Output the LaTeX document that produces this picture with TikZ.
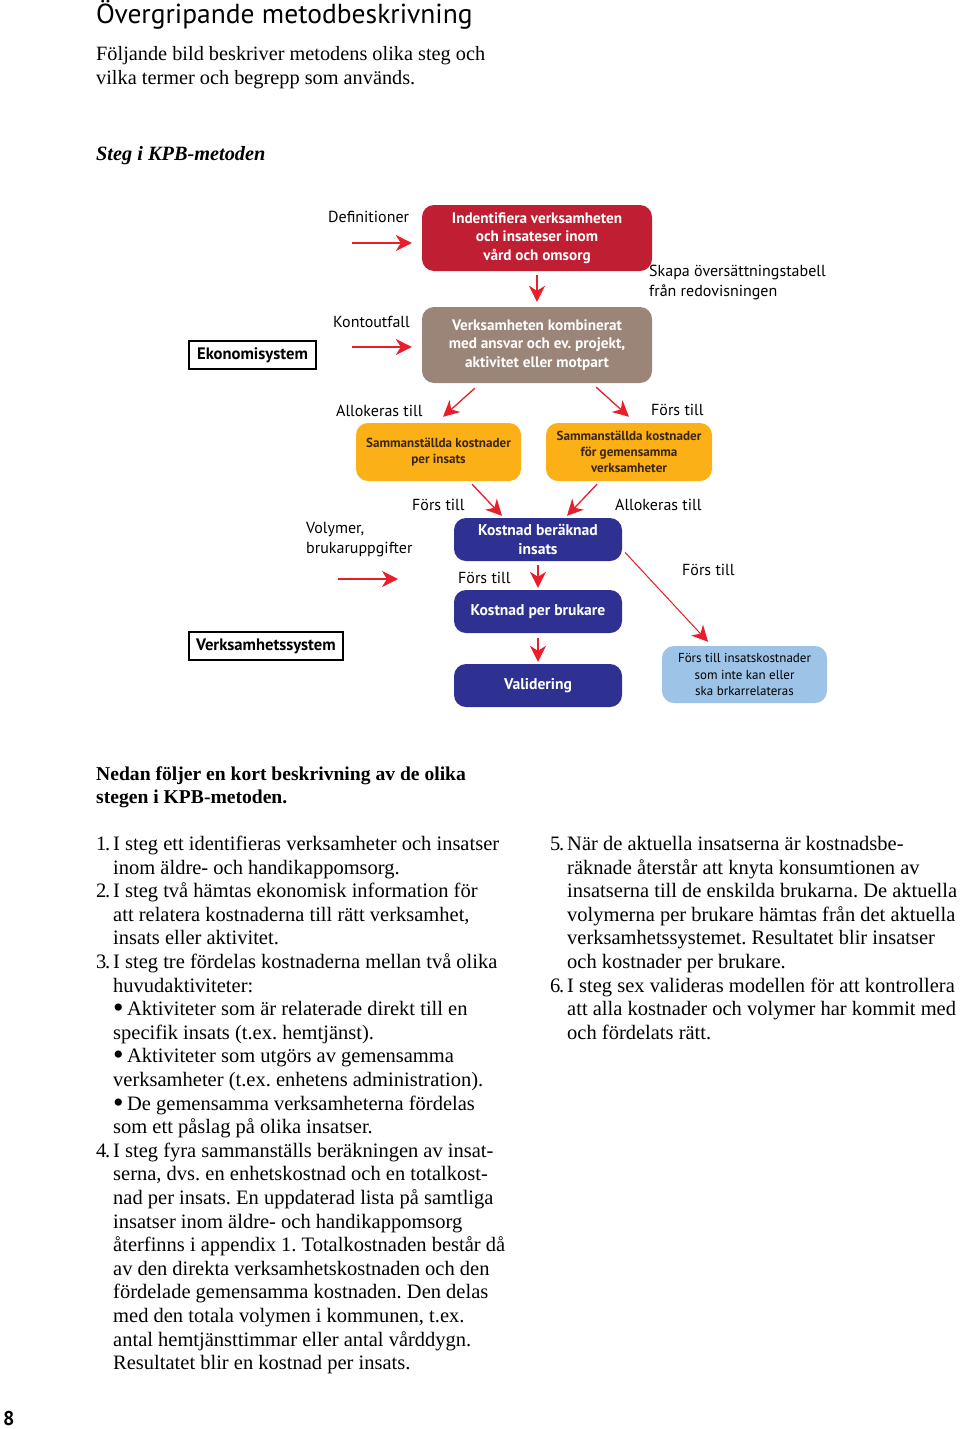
\documentclass[tikz,border=0pt]{standalone}
\usepackage{fontspec}
\setmainfont{Liberation Serif}
\newfontfamily\diafont{PT Sans}
\usetikzlibrary{arrows.meta,positioning}
\frenchspacing

\definecolor{stegrod}{RGB}{192,30,50}
\definecolor{stegbrun}{RGB}{155,133,121}
\definecolor{stegorange}{RGB}{251,176,23}
\definecolor{stegbla}{RGB}{46,49,146}
\definecolor{stegljusbla}{RGB}{157,195,230}
\definecolor{pilrod}{RGB}{232,30,42}
\definecolor{orangetext}{RGB}{60,38,18}

\newcommand{\indrad}{\hspace*{17pt}}
\newcommand{\nummer}[1]{\makebox[17pt][l]{#1\kern-1.3pt.}}
\newcommand{\punkt}{{\fontsize{30}{20}\selectfont\raisebox{-2pt}{\textbullet}}\,}

\begin{document}
\begin{tikzpicture}[x=1pt, y=-1pt,
    boxstyle/.style={rectangle, rounded corners=12pt, inner sep=0pt, align=center, text=white,
        font=\diafont\bfseries\fontsize{15.2}{18.5}\selectfont},
    bluebox/.style={boxstyle, fill=stegbla, minimum width=168pt, minimum height=43pt,
        font=\diafont\bfseries\fontsize{15.6}{19}\selectfont},
    smallbox/.style={boxstyle, text=orangetext, font=\diafont\bfseries\fontsize{13.1}{16.3}\selectfont},
    systemstyle/.style={rectangle, draw=black, line width=1.4pt, inner sep=0pt, minimum height=28pt,
        font=\diafont\bfseries\fontsize{16.6}{18}\selectfont},
    labelstyle/.style={anchor=west, inner sep=0pt, align=left, font=\diafont\fontsize{16}{20}\selectfont},
    arrowstyle/.style={-{Stealth[length=16pt, width=16pt, inset=5pt]}, line width=1.3pt, draw=pilrod, fill=pilrod},
    bodystyle/.style={anchor=base west, inner sep=0pt, font=\fontsize{20.5}{23.6}\selectfont}
]
    \fill[white] (0,0) rectangle (960,1429);
    \useasboundingbox (0,0) rectangle (960,1429);

    % rubrik och ingress
    \node[anchor=base west, inner sep=0pt, font=\diafont\fontsize{27.5}{30}\selectfont] (rubrik) at (96,24) {Övergripande metodbeskrivning};
    \node[bodystyle, font=\fontsize{20.3}{23.6}\selectfont] (ingress) at (96,61) {\parbox[t]{440pt}{\raggedright
        Följande bild beskriver metodens olika steg och\\
        vilka termer och begrepp som används.}};
    \node[bodystyle, font=\bfseries\itshape\fontsize{20.3}{23.6}\selectfont] (stegrubrik) at (96,160) {Steg i KPB-metoden};

    % steg i diagrammet
    \node[boxstyle, fill=stegrod, minimum width=230pt, minimum height=66pt] (ident) at (537,238) {Indentifiera verksamheten\\och insateser inom\\vård och omsorg};
    \node[boxstyle, fill=stegbrun, minimum width=230pt, minimum height=76pt] (komb) at (537,345) {Verksamheten kombinerat\\med ansvar och ev. projekt,\\aktivitet eller motpart};
    \node[smallbox, fill=stegorange, minimum width=165pt, minimum height=58pt] (perinsats) at (438.5,452) {Sammanställda kostnader\\per insats};
    \node[smallbox, fill=stegorange, minimum width=166pt, minimum height=58pt] (gemensam) at (629,452) {Sammanställda kostnader\\för gemensamma\\verksamheter};
    \node[bluebox] (beraknad) at (538,539.5) {Kostnad beräknad\\insats};
    \node[bluebox] (brukare) at (538,611.5) {Kostnad per brukare};
    \node[bluebox] (validering) at (538,685.5) {Validering};
    \node[smallbox, fill=stegljusbla, text=black, minimum width=165pt, minimum height=57pt,
        font=\diafont\fontsize{13}{16.5}\selectfont] (ovrigt) at (744.5,674.5) {Förs till insatskostnader\\som inte kan eller\\ska brkarrelateras};

    % system
    \node[systemstyle, minimum width=127pt] (ekonomi) at (252.5,355) {Ekonomisystem};
    \node[systemstyle, minimum width=154pt] (verksamhet) at (266,646) {Verksamhetssystem};

    % etiketter
    \node[labelstyle] (definitioner) at (328,217) {Definitioner};
    \node[labelstyle] (kontoutfall) at (333,322) {Kontoutfall};
    \node[labelstyle] (skapa) at (649,282) {Skapa översättningstabell\\från redovisningen};
    \node[labelstyle] (allokeras1) at (336,411) {Allokeras till};
    \node[labelstyle] (fors1) at (651,410) {Förs till};
    \node[labelstyle] (fors2) at (412,505) {Förs till};
    \node[labelstyle] (allokeras2) at (615,505) {Allokeras till};
    \node[labelstyle] (volymer) at (306,540) {Volymer,\\brukaruppgifter};
    \node[labelstyle] (fors3) at (458,578) {Förs till};
    \node[labelstyle] (fors4) at (682,570) {Förs till};

    % pilar
    \coordinate (defin) at (352,243);
    \coordinate (kontin) at (352,347);
    \coordinate (volin) at (338,579);
    \coordinate (volut) at (398,579);
    \draw[arrowstyle, shorten >=10pt] (defin) -- (defin -| ident.west);
    \draw[arrowstyle, shorten >=10pt] (kontin) -- (kontin -| komb.west);
    \draw[arrowstyle] (volin) -- (volut);
    \draw[arrowstyle, shorten <=4pt, shorten >=5pt] (ident) -- (komb);
    \draw[arrowstyle] ([xshift=53pt, yshift=-5pt]komb.south west) -- ([xshift=4.5pt, yshift=6pt]perinsats.north);
    \draw[arrowstyle] ([xshift=-56pt, yshift=-4pt]komb.south east) -- ([yshift=6pt]gemensam.north);
    \draw[arrowstyle] ([xshift=33.5pt, yshift=-3pt]perinsats.south) -- ([xshift=-36pt, yshift=2pt]beraknad.north);
    \draw[arrowstyle] ([xshift=-32pt, yshift=-3pt]gemensam.south) -- ([xshift=29pt, yshift=2pt]beraknad.north);
    \draw[arrowstyle, shorten <=4pt, shorten >=2pt] (beraknad) -- (brukare);
    \draw[arrowstyle, shorten <=5pt, shorten >=2pt] (brukare) -- (validering);
    \draw[arrowstyle, line width=1pt] ([xshift=3pt, yshift=-13pt]beraknad.east) -- ([xshift=-36.5pt, yshift=4pt]ovrigt.north);

    % beskrivning
    \node[bodystyle, font=\bfseries\fontsize{19.6}{23.5}\selectfont] (nedan) at (96,780) {\parbox[t]{440pt}{\raggedright
        Nedan följer en kort beskrivning av de olika\\
        stegen i KPB-metoden.}};
    \node[bodystyle] (spalt1) at (96,850.5) {\parbox[t]{440pt}{\raggedright
        \nummer{1}I steg ett identifieras verksamheter och insatser\\
        \indrad inom äldre- och handikappomsorg.\\
        \nummer{2}I steg två hämtas ekonomisk information för\\
        \indrad att relatera kostnaderna till rätt verksamhet,\\
        \indrad insats eller aktivitet.\\
        \nummer{3}I steg tre fördelas kostnaderna mellan två olika\\
        \indrad huvudaktiviteter:\\
        \indrad\punkt Aktiviteter som är relaterade direkt till en\\
        \indrad specifik insats (t.ex. hemtjänst).\\
        \indrad\punkt Aktiviteter som utgörs av gemensamma\\
        \indrad verksamheter (t.ex. enhetens administration).\\
        \indrad\punkt De gemensamma verksamheterna fördelas\\
        \indrad som ett påslag på olika insatser.\\
        \nummer{4}I steg fyra sammanställs beräkningen av insat-\\
        \indrad serna, dvs. en enhetskostnad och en totalkost-\\
        \indrad nad per insats. En uppdaterad lista på samtliga\\
        \indrad insatser inom äldre- och handikappomsorg\\
        \indrad återfinns i appendix 1. Totalkostnaden består då\\
        \indrad av den direkta verksamhetskostnaden och den\\
        \indrad fördelade gemensamma kostnaden. Den delas\\
        \indrad med den totala volymen i kommunen, t.ex.\\
        \indrad antal hemtjänsttimmar eller antal vårddygn.\\
        \indrad Resultatet blir en kostnad per insats.}};
    \node[bodystyle] (spalt2) at (550,850.5) {\parbox[t]{420pt}{\raggedright
        \nummer{5}När de aktuella insatserna är kostnadsbe-\\
        \indrad räknade återstår att knyta konsumtionen av\\
        \indrad insatserna till de enskilda brukarna. De aktuella\\
        \indrad volymerna per brukare hämtas från det aktuella\\
        \indrad verksamhetssystemet. Resultatet blir insatser\\
        \indrad och kostnader per brukare.\\
        \nummer{6}I steg sex valideras modellen för att kontrollera\\
        \indrad att alla kostnader och volymer har kommit med\\
        \indrad och fördelats rätt.}};

    \node[anchor=base west, inner sep=0pt, font=\diafont\bfseries\fontsize{20}{24}\selectfont] (sida) at (3,1425.7) {8};
\end{tikzpicture}
\end{document}
